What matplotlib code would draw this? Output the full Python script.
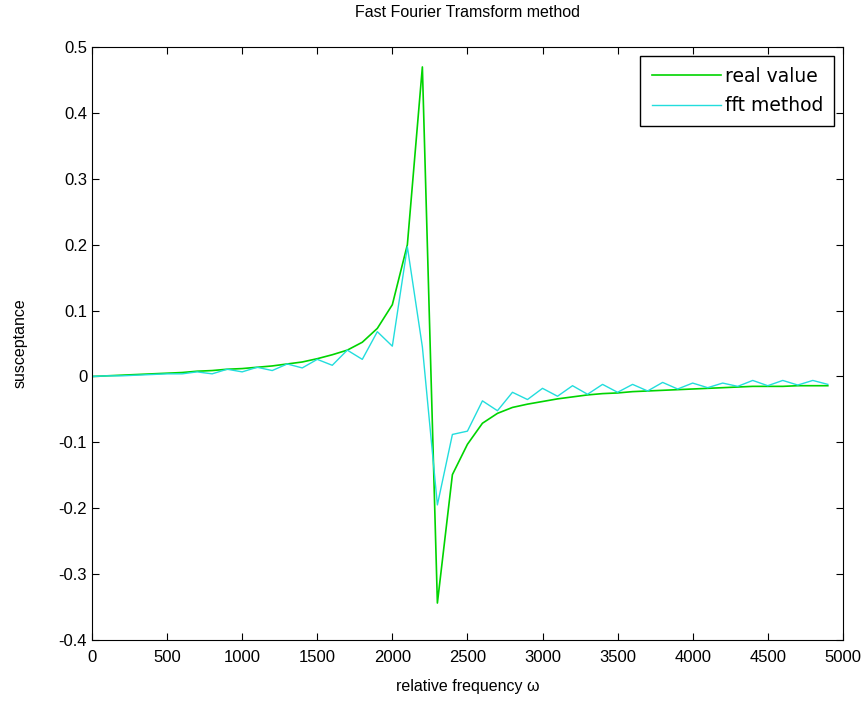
import numpy as np
import matplotlib.pyplot as plt

plt.rcParams['font.family'] = ['Liberation Sans', 'DejaVu Sans']

# relative frequency samples
omega = np.arange(0, 5000, 100)

# susceptance, exact values
real_value = [0.000, 0.001, 0.002, 0.003, 0.004, 0.005, 0.006, 0.008, 0.009, 0.011,
              0.012, 0.014, 0.016, 0.019, 0.022, 0.027, 0.033, 0.040, 0.052, 0.073,
              0.109, 0.200, 0.470, -0.344, -0.149, -0.103, -0.071, -0.056, -0.047, -0.042,
              -0.038, -0.034, -0.031, -0.028, -0.026, -0.025, -0.023, -0.022, -0.021, -0.020,
              -0.019, -0.018, -0.017, -0.016, -0.015, -0.015, -0.015, -0.014, -0.014, -0.014]

# susceptance, fft method
fft_value = [0.000, 0.001, 0.001, 0.002, 0.003, 0.004, 0.004, 0.007, 0.004, 0.011,
             0.007, 0.014, 0.009, 0.019, 0.013, 0.026, 0.017, 0.040, 0.026, 0.068,
             0.046, 0.197, 0.045, -0.195, -0.088, -0.083, -0.037, -0.052, -0.024, -0.035,
             -0.018, -0.030, -0.014, -0.027, -0.012, -0.024, -0.012, -0.022, -0.009, -0.019,
             -0.010, -0.017, -0.010, -0.015, -0.006, -0.014, -0.006, -0.013, -0.006, -0.012]

fig = plt.figure(figsize=(8.68, 7.04), dpi=100)
ax = fig.add_axes([0.106, 0.091, 0.865, 0.842])

ax.plot(omega, real_value, color='#00d400', linewidth=1.2, label='real value')
ax.plot(omega, fft_value, color='#22dddd', linewidth=1.0, label='fft method')

ax.set_xlim(0, 5000)
ax.set_ylim(-0.4, 0.5)
ax.set_xticks(np.arange(0, 5001, 500))
ax.set_yticks(np.arange(-0.4, 0.51, 0.1))
ax.set_yticklabels(['-0.4', '-0.3', '-0.2', '-0.1', '0', '0.1', '0.2', '0.3', '0.4', '0.5'])
ax.tick_params(direction='in', top=True, right=True, labelsize=12, length=5)
ax.tick_params(axis='x', pad=7)

ax.set_title('Fast Fourier Tramsform method', fontsize=11.5, pad=22)
ax.set_xlabel('relative frequency \u03c9', fontsize=11.5, labelpad=10)
ax.set_ylabel('susceptance', fontsize=11.5, labelpad=22)

leg = ax.legend(loc='upper right', fancybox=False, edgecolor='black', framealpha=1,
                prop={'family': 'DejaVu Sans', 'size': 13.5},
                handlelength=3.7, handletextpad=0.2, labelspacing=0.55,
                borderpad=0.6, borderaxespad=0.45)
leg.get_frame().set_linewidth(1.0)

plt.savefig('out.png', dpi=100)
